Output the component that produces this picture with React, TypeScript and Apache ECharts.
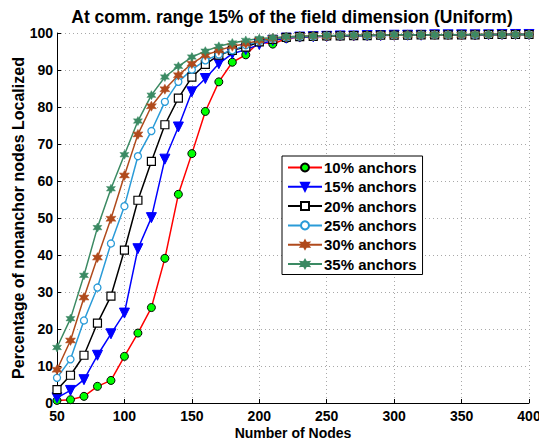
import React, { useEffect, useRef } from "react";
import * as echarts from "echarts";

const nodes = [50, 60, 70, 80, 90, 100, 110, 120, 130, 140, 150, 160, 170, 180, 190, 200, 210, 220, 230, 240, 250, 260, 270, 280, 290, 300, 310, 320, 330, 340, 350, 360, 370, 380, 390, 400];

const anchors10 = [0.7, 0.9, 1.8, 4.5, 6.1, 12.6, 18.9, 25.8, 39.1, 56.4, 67.4, 78.8, 86.8, 92.1, 94.1, 97.6, 97.0, 98.5, 98.9, 99.0, 99.1, 99.2, 99.3, 99.3, 99.4, 99.4, 99.4, 99.5, 99.5, 99.5, 99.5, 99.5, 99.6, 99.6, 99.6, 99.6];
const anchors15 = [1.4, 3.4, 6.3, 12.9, 18.7, 24.3, 41.7, 50.1, 65.9, 74.6, 84.1, 87.7, 91.7, 94.4, 95.5, 96.9, 98.0, 98.6, 98.9, 99.0, 99.1, 99.2, 99.2, 99.3, 99.3, 99.4, 99.4, 99.4, 99.5, 99.5, 99.5, 99.5, 99.5, 99.6, 99.6, 99.6];
const anchors20 = [3.6, 7.5, 12.9, 21.6, 28.9, 41.3, 54.8, 65.3, 75.2, 82.4, 88.1, 91.5, 94.0, 95.3, 96.2, 97.6, 98.3, 98.8, 99.0, 99.1, 99.2, 99.2, 99.3, 99.3, 99.4, 99.4, 99.4, 99.5, 99.5, 99.5, 99.5, 99.5, 99.6, 99.6, 99.6, 99.6];
const anchors25 = [6.8, 11.8, 22.3, 31.2, 43.1, 53.2, 66.7, 73.5, 81.4, 86.8, 90.1, 92.6, 94.2, 95.3, 96.7, 97.8, 98.4, 98.8, 99.0, 99.1, 99.2, 99.3, 99.3, 99.3, 99.4, 99.4, 99.4, 99.5, 99.5, 99.5, 99.5, 99.5, 99.6, 99.6, 99.6, 99.6];
const anchors30 = [9.0, 16.9, 28.5, 39.3, 49.8, 61.5, 72.6, 80.2, 84.8, 88.6, 91.7, 94.0, 95.3, 96.4, 97.1, 98.0, 98.5, 98.9, 99.1, 99.2, 99.2, 99.3, 99.3, 99.4, 99.4, 99.4, 99.5, 99.5, 99.5, 99.5, 99.5, 99.6, 99.6, 99.6, 99.6, 99.6];
const anchors35 = [15.0, 22.8, 34.5, 47.4, 57.9, 67.1, 76.2, 83.2, 88.1, 91.0, 93.5, 95.1, 96.4, 97.3, 98.0, 98.5, 98.7, 99.0, 99.1, 99.2, 99.3, 99.3, 99.4, 99.4, 99.4, 99.5, 99.5, 99.5, 99.5, 99.5, 99.6, 99.6, 99.6, 99.6, 99.6, 99.6];

const seriesNames = ["10% anchors", "15% anchors", "20% anchors", "25% anchors", "30% anchors", "35% anchors"];

const TITLE = "At comm. range 15% of the field dimension (Uniform)";
const X_NAME = "Number of Nodes";
const Y_NAME = "Percentage of nonanchor nodes Localized";

const STAR = "path://M0,-10 L2.6,-4.5 L8.7,-5 L5.2,0 L8.7,5 L2.6,4.5 L0,10 L-2.6,4.5 L-8.7,5 L-5.2,0 L-8.7,-5 L-2.6,-4.5 Z";

const FONT = "Liberation Sans, Arial, sans-serif";

export default function App() {
  const ref = useRef<HTMLDivElement>(null);
  useEffect(() => {
    if (!ref.current) return;
    const chart = echarts.init(ref.current, null, { renderer: "svg" });
    const mk = (vals: number[]) => nodes.map((x, i) => [x, vals[i]]);
    const styles = [
      { color: "#ff0000", symbol: "circle", size: 8, fill: "#00ff00", border: "#000000", bw: 1, rot: 0 },
      { color: "#0000ff", symbol: "triangle", size: 10, fill: "#0000ff", border: "#0000ff", bw: 1, rot: 180 },
      { color: "#000000", symbol: "rect", size: 8, fill: "#ffffff", border: "#000000", bw: 1.2, rot: 0 },
      { color: "#2a9bd8", symbol: "circle", size: 7, fill: "#ffffff", border: "#2a9bd8", bw: 1.3, rot: 0 },
      { color: "#b04a1c", symbol: STAR, size: 10, fill: "#b04a1c", border: "#b04a1c", bw: 0.5, rot: 0 },
      { color: "#3b8a63", symbol: STAR, size: 9, fill: "#3b8a63", border: "#3b8a63", bw: 0.5, rot: 0 },
    ];
    const dataSets = [anchors10, anchors15, anchors20, anchors25, anchors30, anchors35];
    const series = dataSets.map((d, i) => ({
      name: seriesNames[i],
      type: "line",
      data: mk(d),
      symbol: styles[i].symbol,
      symbolSize: styles[i].size,
      symbolRotate: styles[i].rot,
      showAllSymbol: true,
      lineStyle: { color: styles[i].color, width: 1.5 },
      itemStyle: { color: styles[i].fill, borderColor: styles[i].border, borderWidth: styles[i].bw },
      emphasis: { disabled: true },
    }));
    chart.setOption({
      animation: false,
      backgroundColor: "#ffffff",
      textStyle: { fontFamily: FONT },
      grid: { left: 57, right: 10, top: 33, bottom: 37, outerBoundsMode: "none", containLabel: false },
      graphic: [
        {
          type: "text",
          x: 292,
          y: 8,
          style: { text: TITLE, font: "bold 17.5px " + FONT, fill: "#000", textAlign: "center" },
        },
      ],
      legend: {
        orient: "vertical",
        left: 282,
        top: 156,
        data: seriesNames,
        backgroundColor: "#ffffff",
        borderColor: "#000000",
        borderWidth: 1,
        padding: [4, 6, 3, 5],
        itemWidth: 34,
        itemHeight: 10,
        itemGap: 4.3,
        selectedMode: false,
        textStyle: { fontFamily: FONT, fontWeight: "bold", fontSize: 15, color: "#000", padding: [0, 0, 0, -3] },
      },
      xAxis: {
        type: "value",
        min: 50,
        max: 400,
        interval: 50,
        name: X_NAME,
        nameLocation: "middle",
        nameGap: 23,
        nameMoveOverlap: false,
        nameTextStyle: { fontFamily: FONT, fontWeight: "bold", fontSize: 14, lineHeight: 13, color: "#000" },
        axisLine: { lineStyle: { color: "#000", width: 1 } },
        axisTick: { inside: true, length: 4, lineStyle: { color: "#000" } },
        axisLabel: { fontFamily: FONT, fontWeight: "bold", fontSize: 14, lineHeight: 14, color: "#000", margin: 6 },
        splitLine: { show: true, lineStyle: { color: "#a8a8a8", type: [1, 3], width: 1 } },
      },
      yAxis: {
        type: "value",
        min: 0,
        max: 100,
        interval: 10,
        name: Y_NAME,
        nameLocation: "middle",
        nameGap: 31,
        nameMoveOverlap: false,
        nameTextStyle: { fontFamily: FONT, fontWeight: "bold", fontSize: 16, color: "#000" },
        axisLine: { show: true, lineStyle: { color: "#000", width: 1 } },
        axisTick: { show: true, inside: true, length: 4, lineStyle: { color: "#000" } },
        axisLabel: { fontFamily: FONT, fontWeight: "bold", fontSize: 14, lineHeight: 12, color: "#000", margin: 4 },
        splitLine: { show: true, lineStyle: { color: "#a8a8a8", type: [1, 3], width: 1 } },
      },
      series,
    });
    return () => chart.dispose();
  }, []);
  return <div ref={ref} style={{ position: "fixed", left: 0, top: 0, width: 539, height: 440 }} />;
}
